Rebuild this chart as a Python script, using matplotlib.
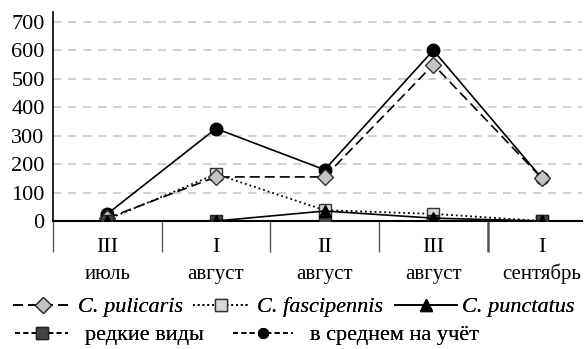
import matplotlib.pyplot as plt
from matplotlib.lines import Line2D

# data
decades = ["III", "I", "II", "III", "I"]
months = ["июль", "август", "август", "август", "сентябрь"]
pulicaris = [10, 155, 155, 550, 150]
fascipennis = [5, 165, 38, 25, 0]
punctatus = [0, 0, 35, 10, 0]
rare = [0, 0, 0, 0, 0]
average = [25, 325, 180, 600, 150]

plt.rcParams['font.family'] = ['Liberation Serif', 'DejaVu Serif']

fig = plt.figure(figsize=(5.88, 3.49), dpi=100)
ax = fig.add_axes([0.0901, 0.3668, 0.90, 0.599])

# styles
st_pul = dict(color='black', ls=(0, (6, 3)), lw=1.2, marker='D', ms=8,
              mfc='#c4c4c4', mec='#333333')
st_fas = dict(color='black', ls=':', lw=1.3, marker='s', ms=8.5,
              mfc='#d8d8d8', mec='#333333')
st_pun = dict(color='black', ls='-', lw=1.2, marker='^', ms=9,
              mfc='black', mec='black')
st_rare = dict(color='black', ls=(0, (3, 2)), lw=1.2, marker='s', ms=8.5,
               mfc='#444444', mec='#222222')
st_avg = dict(color='black', ls='-', lw=1.2, marker='o', ms=9,
              mfc='black', mec='black')

x = range(len(decades))
ax.plot(x, fascipennis, zorder=3, **st_fas)
ax.plot(x, average, zorder=4, **st_avg)
ax.plot(x, pulicaris, zorder=5, **st_pul)
ax.plot(x, rare, zorder=6, **st_rare)
ax.plot(x, punctatus, zorder=7, **st_pun)

ax.set_xlim(-0.5, 4.37)
ax.set_ylim(0, 735)
ax.set_yticks(range(0, 701, 100))
ax.yaxis.grid(True, color='#c8c8c8', ls=(0, (5, 4)), lw=1.2)
ax.set_axisbelow(True)
ax.tick_params(axis='y', length=0, labelsize=16, pad=6)

ax.set_xticks(list(x))
ax.set_xticklabels([])
ax.set_xticks([-0.5, 0.5, 1.5, 2.5, 3.5], minor=True)
ax.tick_params(axis='x', which='major', length=0)
ax.tick_params(axis='x', which='minor', length=22, width=1, color='#555555')
sep = ax.xaxis.get_minor_ticks()
sep[0].tick1line.set_color('black')
sep[4].tick1line.set_color('black')
sep[4].tick1line.set_markeredgewidth(1.8)
xt = ax.get_xaxis_transform()
for i, (d, m) in enumerate(zip(decades, months)):
    ax.text(i, -0.148, d, transform=xt, ha='center', va='baseline', fontsize=16)
    ax.text(i, -0.277, m, transform=xt, ha='center', va='baseline', fontsize=15)

for s in ['top', 'right']:
    ax.spines[s].set_visible(False)
ax.spines['left'].set_linewidth(1.2)
ax.spines['bottom'].set_linewidth(1.5)

# legend: one entry per box so each handle can have its own length
leg_items = [
    (st_pul, "C. pulicaris", 13, 0.120, 2.66, 0.27, 'italic'),
    (st_fas, "C. fascipennis", 193, 0.120, 2.48, 0.4, 'italic'),
    (st_pun, "C. punctatus", 395, 0.120, 2.8, 0.23, 'italic'),
    (st_rare, "редкие виды", 15, 0.040, 2.4, 0.77, 'normal'),
    (st_avg, "в среднем на учёт", 233, 0.040, 2.7, 0.77, 'normal'),
]
for st, lab, px, fy, hl, htp, fst in leg_items:
    st = dict(st)
    if st['marker'] == 'o':
        st['ms'] = 7
        st['ls'] = (0, (3, 2))
    h = Line2D([], [], **st)
    leg = fig.legend([h], [lab], loc='center left', bbox_to_anchor=(px / 588, fy),
                     frameon=False, borderpad=0, borderaxespad=0,
                     handlelength=hl, handletextpad=htp,
                     prop={'style': fst, 'size': 16})
    fig.add_artist(leg)

fig.savefig("out.png", dpi=100)
